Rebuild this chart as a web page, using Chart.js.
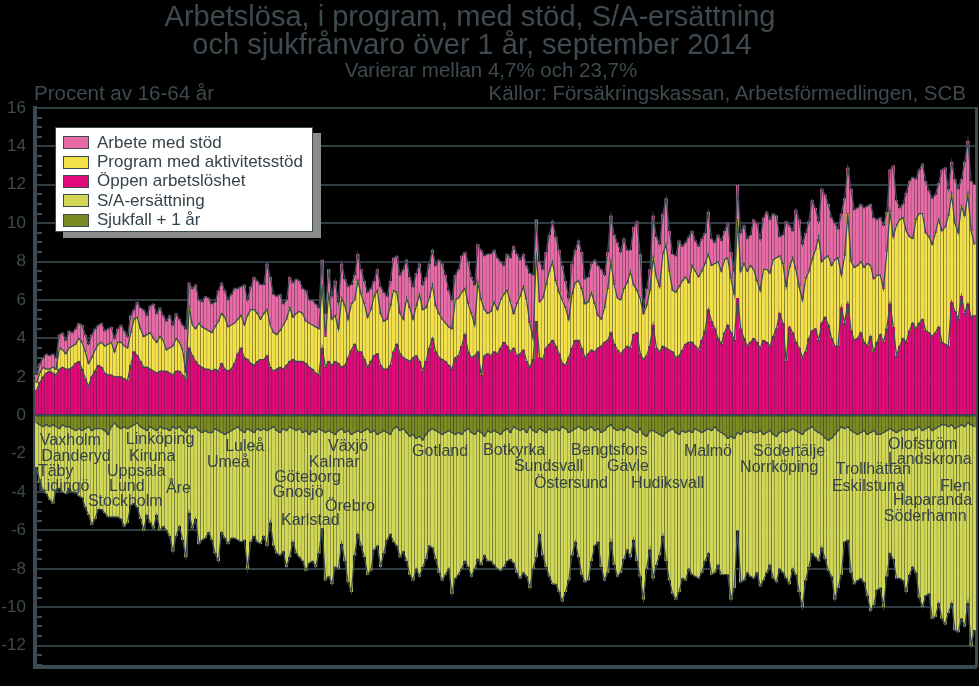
<!DOCTYPE html>
<html>
<head>
<meta charset="utf-8">
<script src="https://cdn.jsdelivr.net/npm/chart.js@4.4.1/dist/chart.umd.min.js"></script>
<style>
  body { margin: 0; background: #000; }
  #wrap { position: relative; width: 979px; height: 686px; font-family: "Liberation Sans", Arial, sans-serif; color: #3e4a4f; }
  .txt { position: absolute; white-space: nowrap; line-height: 1; }
  #legend { position: absolute; left: 55px; top: 127px; width: 258px; height: 105px; background: #fff;
            border: 1px solid #3a4a50; box-shadow: 8px 6px 0 #8c8c8c; padding-top: 5px; box-sizing: border-box; }
  .row { height: 19.4px; display: flex; align-items: center; font-size: 17px; color: #36434a; }
  .sw { width: 24px; height: 11px; margin: 0 8px 0 7px; border: 1.5px solid #3a4a50; }
</style>
</head>
<body>
<div id="wrap">
  <canvas id="chart" width="979" height="686"></canvas>
  <div class="txt" style="left:0;width:940px;text-align:center;top:2px;font-size:29px">Arbetslösa, i program, med stöd, S/A-ersättning</div>
  <div class="txt" style="left:0;width:944px;text-align:center;top:30px;font-size:29px">och sjukfrånvaro över 1 år, september 2014</div>
  <div class="txt" style="left:0;width:982px;text-align:center;top:60px;font-size:20.5px">Varierar mellan 4,7% och 23,7%</div>
  <div class="txt" style="left:34px;top:83px;font-size:20.5px">Procent av 16-64 år</div>
  <div class="txt" style="right:13px;top:83px;font-size:20.5px">Källor: Försäkringskassan, Arbetsförmedlingen, SCB</div>
  <div id="legend"></div>
</div>
<script>
// procent av 16-64 år, en stapel per kommun (290 st)
var oppen = [
  1.3,1.7,2.0,2.2,2.3,2.2,2.1,2.4,2.5,2.4,
  2.4,2.5,2.7,2.8,2.4,1.9,1.5,2.0,2.3,2.6,
  2.5,2.2,2.1,2.1,2.0,2.0,2.0,1.9,1.8,2.6,
  3.3,3.1,2.8,2.5,2.5,2.4,2.3,2.2,2.3,2.3,
  2.3,2.2,2.1,2.3,2.3,2.1,1.9,3.5,3.1,2.8,
  2.6,2.5,2.4,2.4,2.3,2.4,2.3,2.7,2.4,2.3,
  2.4,2.7,3.2,3.5,3.0,2.9,2.7,2.6,2.8,2.9,
  2.9,3.1,2.5,2.3,2.4,2.5,2.4,2.6,2.8,2.9,
  2.8,2.8,2.8,2.7,2.5,2.4,2.2,2.1,3.5,2.5,
  2.8,2.6,2.8,2.7,2.5,2.6,3.0,3.4,3.7,3.3,
  3.3,2.9,2.5,2.8,3.1,3.2,2.6,2.4,2.4,2.6,
  3.3,3.7,3.2,3.0,2.9,2.8,3.0,3.1,2.8,2.3,
  2.8,3.5,4.0,3.3,3.0,2.9,2.8,2.6,2.4,3.0,
  3.1,3.6,4.2,3.3,3.0,3.1,3.3,2.1,3.1,3.2,
  3.1,3.3,3.2,3.5,3.8,3.6,3.3,3.5,3.1,3.2,
  3.4,2.8,2.5,2.9,4.9,3.0,2.9,3.5,3.7,3.9,
  3.6,3.2,2.7,2.6,3.0,3.5,3.9,3.9,3.5,3.0,
  3.2,3.4,3.3,3.5,3.6,3.8,3.9,4.3,3.7,3.4,
  3.2,3.4,3.6,3.5,4.2,4.3,3.2,2.9,3.1,3.6,
  4.7,3.5,3.3,3.6,3.5,3.4,3.3,3.0,3.1,3.4,
  3.7,3.8,3.8,3.6,3.4,3.9,4.4,5.5,4.9,4.5,
  4.0,3.7,4.3,4.7,4.3,3.9,6.1,4.5,4.0,3.6,
  3.8,4.0,3.8,3.5,3.9,3.8,3.6,4.1,4.5,5.3,
  4.8,2.8,4.6,4.3,3.8,3.5,3.0,3.3,4.0,4.4,
  4.5,3.9,4.8,5.1,4.7,4.0,3.6,3.6,5.6,4.8,
  5.8,4.4,3.9,4.0,4.3,3.8,3.6,4.1,3.3,3.8,
  4.2,3.8,4.5,5.8,4.6,3.1,3.6,4.0,3.8,4.4,
  4.8,4.5,4.8,5.0,4.4,4.3,4.1,4.3,4.6,3.8,
  3.7,3.6,5.9,5.4,5.0,6.2,5.3,5.8,5.1,5.2
];
var program = [
  0.4,0.5,0.5,0.2,0.1,0.3,0.3,1.1,0.9,0.8,
  1.1,1.1,1.0,1.2,1.4,1.4,1.2,1.0,1.1,1.1,
  1.3,1.4,1.6,1.7,1.3,1.8,1.8,1.7,1.7,1.7,
  1.7,2.0,1.7,1.6,1.7,1.9,1.7,1.6,1.8,1.6,
  1.1,1.3,1.5,1.7,1.5,1.3,0.3,2.1,1.6,1.7,
  2.2,2.1,2.1,2.0,2.0,2.2,2.6,2.6,2.7,2.3,
  2.3,2.1,1.8,1.7,1.7,2.3,2.8,2.9,2.5,2.1,
  2.4,2.4,2.2,2.0,1.8,1.9,2.3,2.4,2.8,2.2,
  2.5,2.6,2.5,2.2,2.3,2.3,2.4,2.4,3.3,1.6,
  3.6,2.4,2.4,1.8,3.6,3.1,2.0,2.4,2.3,3.7,
  3.0,2.9,2.6,2.7,3.1,3.3,2.7,2.5,2.6,3.1,
  3.2,2.7,2.1,2.0,3.2,2.8,2.0,2.6,3.5,3.2,
  2.8,2.6,2.8,2.4,2.3,2.1,2.0,2.0,2.1,3.0,
  3.0,2.8,2.4,2.5,2.3,1.6,3.6,3.9,2.4,2.1,
  2.3,2.6,2.3,2.5,2.5,2.9,2.6,1.8,2.7,3.0,
  3.3,3.2,2.3,1.1,3.6,2.9,3.2,3.3,3.8,4.1,
  3.4,3.2,3.3,3.0,2.0,2.8,3.0,3.1,3.1,2.8,
  2.7,3.0,2.5,1.7,1.4,1.8,2.7,3.7,3.1,2.7,
  2.8,3.2,3.3,4.0,2.6,2.2,2.9,2.4,2.6,2.9,
  3.5,3.7,3.4,4.8,5.4,4.1,3.2,3.4,3.6,3.6,
  3.5,3.1,4.0,3.9,3.8,3.6,3.5,2.9,2.9,3.4,
  4.0,3.8,3.8,3.5,2.8,2.4,4.1,3.0,3.9,3.9,
  4.0,3.6,3.2,3.0,3.7,3.8,3.8,4.0,3.7,3.0,
  3.1,3.9,3.1,3.9,3.8,3.2,3.0,3.8,3.5,3.7,
  4.1,5.4,3.2,3.1,3.6,3.8,4.5,4.6,1.7,3.5,
  4.7,3.6,3.8,3.8,3.7,3.9,4.3,3.7,3.8,3.5,
  3.1,2.8,4.0,4.8,4.7,6.8,6.6,6.3,5.8,4.9,
  4.4,5.7,5.7,5.5,5.1,5.0,4.8,5.2,5.6,5.8,
  6.1,6.8,5.6,4.6,4.5,4.7,5.1,5.7,4.5,3.7
];
var arbete = [
  0.4,0.5,0.5,0.8,0.7,0.7,0.6,0.7,0.9,0.7,
  0.9,0.7,0.8,0.8,0.9,0.9,1.0,1.2,1.1,1.0,
  1.0,0.8,0.8,0.8,0.7,0.7,0.9,0.8,0.6,0.9,
  0.5,0.8,1.1,1.4,1.0,1.4,1.8,1.5,1.5,1.3,
  1.5,1.7,1.1,1.3,1.2,1.3,2.3,1.3,1.9,2.3,
  1.2,1.3,1.7,1.7,1.5,1.3,1.6,1.6,1.4,1.4,
  1.6,1.8,1.6,1.5,2.1,0.8,1.2,1.7,1.7,1.8,
  1.5,2.4,2.5,2.0,2.0,1.9,1.1,1.0,1.6,1.8,
  1.8,1.6,1.3,1.6,1.2,1.3,1.2,1.1,1.3,1.2,
  1.2,1.2,1.8,1.4,1.8,1.4,1.7,1.0,1.3,1.4,
  1.3,1.2,1.3,1.1,0.8,1.1,1.4,1.5,1.2,1.3,
  1.7,1.9,2.0,2.6,2.0,1.6,1.7,1.7,1.6,1.3,
  1.6,1.8,1.8,2.1,2.8,2.9,2.5,1.9,1.5,1.3,
  1.5,1.9,1.9,2.2,1.9,2.1,2.0,2.6,2.8,3.1,
  3.0,2.7,2.7,2.0,1.5,1.9,2.3,3.5,2.6,1.9,
  1.7,1.8,2.6,3.3,1.7,2.1,1.5,1.7,1.9,2.1,
  2.3,2.2,1.8,1.4,1.1,1.6,1.7,2.1,1.9,1.3,
  1.3,1.5,2.3,2.6,2.6,1.7,1.9,2.4,2.6,2.9,
  2.5,2.6,1.7,1.1,3.0,3.6,2.3,0.3,0.9,1.1,
  2.2,2.1,2.2,2.1,2.4,2.1,1.9,1.9,2.4,1.8,
  1.8,2.4,1.8,1.6,1.6,1.7,1.6,2.2,1.4,1.1,
  1.4,1.6,1.5,1.8,1.4,1.2,1.8,2.0,2.0,1.7,
  1.6,2.6,3.0,2.7,2.7,3.0,2.8,2.4,2.2,1.0,
  1.5,3.4,2.2,1.4,3.1,3.5,2.9,2.4,2.6,3.1,
  2.2,0.8,3.8,3.3,2.7,2.5,1.9,1.5,3.2,3.0,
  2.4,3.8,3.0,3.0,3.0,3.1,3.0,3.2,3.2,2.9,
  3.0,3.3,2.1,2.2,3.7,1.3,0.6,0.7,2.0,2.9,
  3.2,2.1,2.3,2.6,2.7,2.4,2.4,2.0,1.9,3.2,
  3.1,1.4,1.7,2.3,2.3,1.4,2.8,2.8,2.6,3.1
];
var sjukfall = [
  0.4,0.5,0.6,0.5,0.6,0.5,0.6,0.7,0.5,0.6,
  0.6,0.7,0.8,0.7,0.8,0.7,0.6,0.8,0.7,0.7,
  0.7,0.8,1.0,0.6,0.4,0.6,0.7,0.6,0.7,0.6,
  0.5,0.4,0.6,0.7,0.8,0.6,0.7,0.8,0.6,0.7,
  0.7,0.8,0.6,0.7,0.6,0.8,0.9,0.6,0.7,0.6,
  0.8,0.9,0.8,0.9,0.9,0.7,0.8,0.9,1.0,0.9,
  0.8,0.7,0.6,0.8,0.9,0.7,0.8,0.9,0.7,0.8,
  0.7,0.8,0.7,0.6,0.8,0.9,0.7,0.8,0.6,0.7,
  0.8,0.7,0.9,0.8,1.0,0.8,0.9,0.7,0.8,0.9,
  0.8,0.9,1.0,0.8,0.7,0.9,0.8,1.0,0.9,0.8,
  0.9,0.8,0.7,0.9,0.8,1.0,0.9,0.8,0.9,1.0,
  0.7,0.6,0.8,0.7,0.9,1.1,1.0,1.2,1.1,1.3,
  1.0,0.8,0.7,0.8,0.9,1.0,0.9,0.8,0.9,1.0,
  0.9,1.0,0.8,0.7,0.9,1.0,0.8,0.9,1.1,0.8,
  0.9,0.8,0.9,1.0,0.8,0.7,0.9,0.6,0.7,0.8,
  0.7,0.9,0.6,0.8,0.9,0.7,0.8,0.9,0.7,0.8,
  0.7,0.8,0.6,0.7,0.9,0.8,0.7,0.6,0.7,0.8,
  0.7,0.6,0.8,0.7,0.9,0.8,0.6,0.5,0.7,0.8,
  0.7,0.8,0.6,0.7,0.8,0.9,0.7,1.0,1.1,0.8,
  0.8,0.9,1.0,1.1,0.9,0.8,0.7,0.9,1.0,0.8,
  0.9,0.8,0.9,0.7,0.8,0.9,0.8,0.7,0.8,0.6,
  0.8,0.9,1.0,1.2,1.1,1.2,0.9,1.0,0.8,0.9,
  0.8,0.9,0.9,0.8,1.0,0.9,0.8,1.0,1.1,0.9,
  0.8,0.9,0.8,0.7,0.8,0.9,1.0,0.8,0.7,0.6,
  0.8,0.9,1.0,1.2,1.3,1.2,1.0,0.8,0.6,0.7,
  0.6,0.8,0.9,1.0,0.9,0.8,1.0,0.9,0.8,1.0,
  1.0,0.9,0.8,0.7,0.8,0.9,0.8,0.7,0.8,0.7,
  0.8,0.7,0.6,0.8,0.7,0.6,0.8,0.7,0.6,0.5,
  0.5,0.6,0.5,0.7,0.6,0.5,0.6,0.4,0.5,0.6
];
var saErsattning = [
  2.3,3.0,3.3,3.6,3.8,4.1,3.3,3.1,3.5,3.5,
  3.2,3.3,3.2,3.5,3.5,4.1,4.6,4.9,4.7,4.2,
  4.2,4.3,4.3,4.7,4.9,4.7,4.7,5.2,4.9,4.1,
  4.1,4.4,4.8,5.3,4.4,5.0,5.2,4.4,5.4,5.1,
  5.3,5.5,6.5,5.6,5.2,5.7,6.5,4.5,5.2,4.8,
  5.9,5.6,5.6,5.2,5.6,6.5,6.8,5.2,5.4,5.8,
  5.6,5.7,5.9,5.8,5.6,7.3,5.8,5.4,5.9,5.9,
  5.6,6.0,4.9,6.2,6.4,6.4,6.4,7.1,6.8,5.9,
  6.4,6.7,6.7,7.3,6.7,6.8,7.0,6.5,5.1,7.7,
  7.6,7.9,6.9,7.2,6.0,6.7,7.9,8.2,6.4,5.4,
  5.9,6.6,7.6,7.2,6.2,5.8,7.0,6.4,5.6,5.2,
  5.9,6.2,6.6,6.4,6.7,7.2,7.6,6.8,7.3,6.6,
  6.5,6.0,6.2,6.7,7.3,7.6,7.4,7.2,8.4,7.5,
  7.4,7.0,6.8,7.2,7.5,7.0,6.7,6.9,6.2,6.8,
  6.7,7.0,7.1,7.1,7.1,6.9,6.6,7.1,7.5,7.7,
  7.5,7.5,8.4,7.2,6.5,5.5,6.5,7.0,7.7,8.0,
  8.1,8.4,9.1,8.5,7.7,6.5,5.9,6.8,7.6,7.9,
  7.9,7.0,6.0,5.9,7.0,7.8,7.6,6.1,7.1,7.6,
  7.5,6.7,6.4,6.7,5.7,6.7,7.7,8.6,6.9,6.2,
  7.7,6.9,6.3,5.2,6.7,7.8,8.6,8.7,8.2,7.7,
  7.7,7.2,7.4,7.7,7.7,7.3,6.8,6.5,7.5,7.6,
  7.0,7.4,7.3,7.1,8.5,7.8,5.1,7.7,7.8,7.3,
  7.6,7.6,7.3,8.1,7.6,7.3,7.0,7.5,7.6,7.1,
  7.4,7.6,8.0,7.3,7.5,8.3,9.0,7.8,7.2,6.6,
  6.6,6.7,5.9,6.3,6.8,7.2,8.6,8.2,7.7,5.9,
  5.9,7.4,7.9,7.6,7.6,7.9,8.4,9.3,9.1,8.1,
  8.0,9.1,7.6,6.5,6.7,7.6,7.7,7.9,8.4,7.6,
  7.1,7.5,8.9,9.2,8.7,8.7,9.8,9.8,9.2,10.1,
  10.4,9.7,9.3,10.5,10.7,10.1,10.4,9.4,11.5,10.6
];

// kommunnummer i sorteringsordning
var kommuner = oppen.map(function (v, i) { return String(i + 1); });

// namnetiketter: [namn, stapelindex där texten börjar, höjd i procent]
var etiketter = [
  ['Vaxholm', 1.0, -1.3], ['Danderyd', 1.4, -2.13], ['Täby', 0.4, -2.96], ['Lidingö', 0.4, -3.74],
  ['Linköping', 27.5, -1.25], ['Kiruna', 28.5, -2.13], ['Uppsala', 21.7, -2.91], ['Lund', 22.3, -3.74],
  ['Stockholm', 15.8, -4.52], ['Åre', 39.9, -3.84], ['Luleå', 58.1, -1.61], ['Umeå', 52.5, -2.44],
  ['Växjö', 89.8, -1.61], ['Kalmar', 83.9, -2.49], ['Göteborg', 73.2, -3.27], ['Gnosjö', 72.8, -4.05],
  ['Örebro', 88.9, -4.78], ['Karlstad', 75.3, -5.51], ['Gotland', 115.7, -1.87], ['Botkyrka', 137.6, -1.82],
  ['Sundsvall', 147.1, -2.65], ['Östersund', 153.3, -3.58], ['Bengtsfors', 164.7, -1.82], ['Gävle', 175.8, -2.7],
  ['Hudiksvall', 183.2, -3.58], ['Malmö', 199.5, -1.87], ['Södertälje', 220.8, -1.87], ['Norrköping', 216.8, -2.75],
  ['Trollhättan', 246.3, -2.81], ['Eskilstuna', 245.1, -3.69], ['Olofström', 262.4, -1.51], ['Landskrona', 262.4, -2.29],
  ['Flen', 278.4, -3.69], ['Haparanda', 263.9, -4.47], ['Söderhamn', 261.1, -5.3]
];

var axisColor = '#3a4a50';
var gridColor = '#2f3c41';
var textColor = '#3e4a4f';
var stripe = 'rgba(44,58,64,0.6)';
var outline = '#3b4b53';

var serier = [
  { label: 'Arbete med stöd', color: '#e86aa6' },
  { label: 'Program med aktivitetsstöd', color: '#f4e04b' },
  { label: 'Öppen arbetslöshet', color: '#e20a7b' },
  { label: 'S/A-ersättning', color: '#d2d756' },
  { label: 'Sjukfall + 1 år', color: '#7c8b21' }
];

var legend = document.getElementById('legend');
serier.forEach(function (s) {
  var row = document.createElement('div');
  row.className = 'row';
  row.innerHTML = '<span class="sw" style="background:' + s.color + '"></span>' + s.label;
  legend.appendChild(row);
});

// gränslinjer mellan lagren
var kant1 = oppen.map(function (v, i) { return v; });
var kant2 = oppen.map(function (v, i) { return v + program[i]; });
var kant3 = oppen.map(function (v, i) { return v + program[i] + arbete[i]; });
var kant4 = sjukfall.map(function (v) { return -v; });
var kant5 = sjukfall.map(function (v, i) { return -(v + saErsattning[i]); });

function stapel(label, data, color, extra) {
  var ds = {
    type: 'bar',
    label: label,
    data: data,
    backgroundColor: color,
    borderColor: stripe,
    borderWidth: { top: 0, bottom: 0, left: 0.4, right: 0.4 },
    categoryPercentage: 1,
    barPercentage: 1,
    stack: 'alla',
    order: 2
  };
  return Object.assign(ds, extra || {});
}

function kant(data, n) {
  return {
    type: 'line',
    data: data,
    borderColor: outline,
    borderWidth: 1.3,
    pointRadius: 0,
    tension: 0,
    fill: false,
    stack: 'kant' + n,
    order: 1
  };
}

var minorTicks = {
  id: 'minorTicks',
  beforeDatasetsDraw: function (chart) {
    var ctx = chart.ctx, y = chart.scales.y, left = chart.chartArea.left;
    ctx.save();
    ctx.strokeStyle = axisColor;
    ctx.lineWidth = 2;
    for (var v = -13; v <= 16; v += 0.5) {
      if (v % 2 === 0) continue;
      var py = Math.round(y.getPixelForValue(v));
      ctx.beginPath();
      ctx.moveTo(left, py);
      ctx.lineTo(left + 7, py);
      ctx.stroke();
    }
    ctx.restore();
  }
};

var namnPlugin = {
  id: 'namn',
  afterDatasetsDraw: function (chart) {
    var ctx = chart.ctx, x = chart.scales.x, y = chart.scales.y;
    ctx.save();
    // nollinjen syns ovanpå staplarna
    ctx.strokeStyle = outline;
    ctx.lineWidth = 1.5;
    var y0 = y.getPixelForValue(0);
    ctx.beginPath();
    ctx.moveTo(chart.chartArea.left, y0);
    ctx.lineTo(chart.chartArea.right, y0);
    ctx.stroke();
    ctx.font = '16px "Liberation Sans", Arial, sans-serif';
    ctx.fillStyle = '#33424a';
    ctx.textAlign = 'left';
    ctx.textBaseline = 'middle';
    etiketter.forEach(function (e) {
      ctx.fillText(e[0], x.getPixelForValue(e[1]), y.getPixelForValue(e[2]));
    });
    ctx.restore();
  }
};

var ctx = document.getElementById('chart').getContext('2d');
var myChart = new Chart(ctx, {
  type: 'bar',
  data: {
    labels: kommuner,
    datasets: [
      stapel('Öppen arbetslöshet', oppen, '#e20a7b'),
      stapel('Program med aktivitetsstöd', program, '#f4e04b'),
      stapel('Arbete med stöd', arbete, '#e86aa6'),
      stapel('Sjukfall + 1 år', sjukfall.map(function (v) { return -v; }), '#7c8b21'),
      stapel('S/A-ersättning', saErsattning.map(function (v) { return -v; }), '#d2d756'),
      kant(kant1, 1), kant(kant2, 2), kant(kant3, 3), kant(kant4, 4), kant(kant5, 5)
    ]
  },
  options: {
    responsive: false,
    animation: false,
    layout: { padding: { top: 108, right: 3, bottom: 18, left: 0 } },
    plugins: { legend: { display: false }, tooltip: { enabled: false }, title: { display: false } },
    scales: {
      x: {
        stacked: true,
        ticks: { display: false },
        grid: { display: false, drawTicks: false },
        border: { display: true, color: axisColor, width: 4 },
        afterFit: function (s) { s.height = 0; }
      },
      y: {
        stacked: true,
        min: -13.1,
        max: 16,
        afterBuildTicks: function (s) {
          var t = [];
          for (var v = -13; v <= 16; v += 0.5) t.push({ value: v });
          s.ticks = t;
        },
        afterFit: function (s) { s.width = 35; },
        ticks: {
          autoSkip: false,
          padding: 9,
          color: textColor,
          font: { family: '"Liberation Sans", Arial, sans-serif', size: 17 },
          callback: function (v) { return v % 2 === 0 ? String(v) : ''; }
        },
        grid: {
          drawTicks: false,
          lineWidth: 2,
          color: function (c) { return c.tick && c.tick.value % 2 === 0 ? gridColor : 'rgba(0,0,0,0)'; }
        },
        border: { display: true, color: axisColor, width: 4 }
      },
      yR: {
        position: 'right',
        display: true,
        ticks: { display: false },
        grid: { display: false, drawTicks: false },
        border: { display: true, color: axisColor, width: 3 },
        afterFit: function (s) { s.width = 0; }
      }
    }
  },
  plugins: [minorTicks, namnPlugin]
});
</script>
</body>
</html>
